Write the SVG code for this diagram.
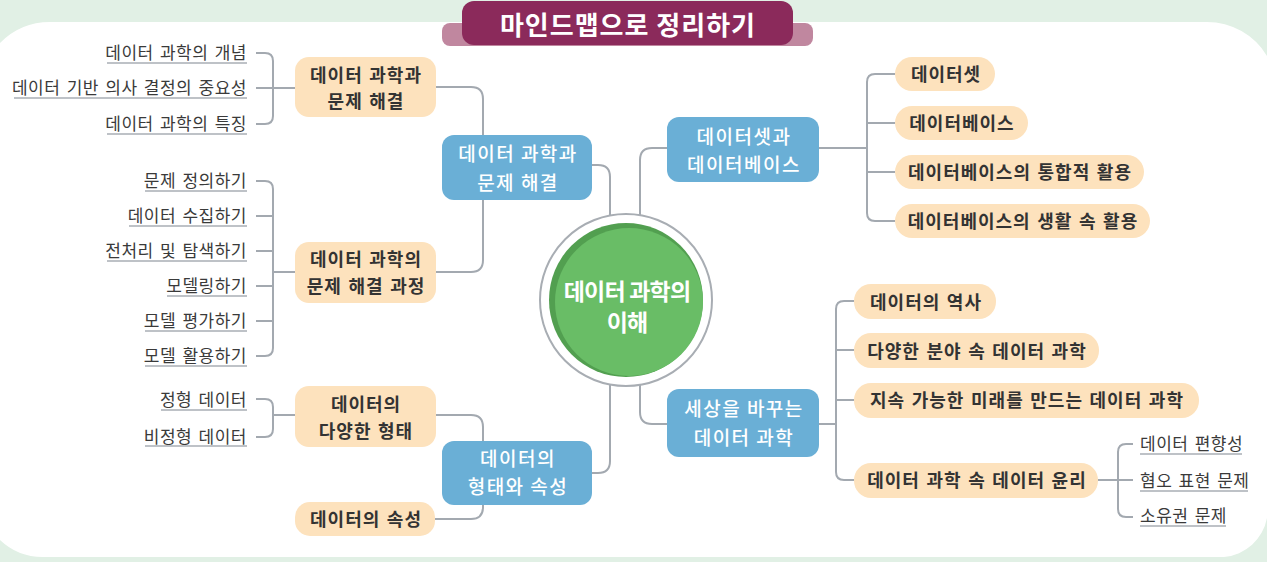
<svg xmlns="http://www.w3.org/2000/svg" width="1267" height="562" viewBox="0 0 1267 562">
<style>
.t{font-family:"Noto Sans CJK KR","Noto Sans",sans-serif}
.blue{fill:#6aafd6}
.org{fill:#fde2bd}
.bt{fill:#ffffff;font-size:19px;font-weight:500;text-anchor:middle;letter-spacing:1.5px}
.ot{fill:#333333;font-size:18px;font-weight:bold;text-anchor:middle;letter-spacing:1px;word-spacing:1.5px}
.lt{fill:#3a3a3a;font-size:17px;letter-spacing:0.5px;word-spacing:2px}
.ul{stroke:#a9aeb4;stroke-width:1.5}
.c{fill:none;stroke:#a3a9b0;stroke-width:2}
</style>
<rect x="0" y="0" width="1267" height="562" fill="#e1f0e5"/>
<path d="M0,43 A70,70 0 0 1 50,22 H1207 A70,70 0 0 1 1267,56 V518 A48,48 0 0 1 1224,557 H43 A62,62 0 0 1 0,540 Z" fill="#ffffff"/>

<g id="title">
<rect x="442" y="23" width="371" height="23" rx="8" fill="#c0879f"/>
<rect x="462" y="1" width="331" height="44" rx="12" fill="#8b2a5b"/>
<text class="t" x="628" y="35" fill="#ffffff" font-size="26" font-weight="bold" text-anchor="middle" letter-spacing="1">마인드맵으로 정리하기</text>
</g>

<g id="connectors">
<path class="c" d="M592,165 H598 Q610,165 610,177 V216"/>
<path class="c" d="M667,148 H652 Q640,148 640,160 V216"/>
<path class="c" d="M640,384 V412 Q640,424 652,424 H667"/>
<path class="c" d="M610,384 V461 Q610,473 598,473 H592"/>
<path class="c" d="M436,87 H471 Q483,87 483,99 V135"/>
<path class="c" d="M483,200 V260 Q483,272 471,272 H436"/>
<path class="c" d="M436,415 H471 Q483,415 483,427 V441"/>
<path class="c" d="M483,505 V507 Q483,519 471,519 H435"/>
<path class="c" d="M256,53 H265 Q273,53 273,61 V116 Q273,124 265,124 H256"/>
<path class="c" d="M256,88 H295"/>
<path class="c" d="M256,181 H265 Q273,181 273,189 V348 Q273,356 265,356 H256"/>
<path class="c" d="M256,216 H273 M256,251 H273 M256,286 H273 M256,321 H273 M273,272 H295"/>
<path class="c" d="M256,399 H265 Q273,399 273,407 V429 Q273,437 265,437 H256"/>
<path class="c" d="M273,415 H295"/>
<path class="c" d="M819,148 H867"/>
<path class="c" d="M895,74 H875 Q867,74 867,82 V213 Q867,221 875,221 H895"/>
<path class="c" d="M867,123 H895 M867,172 H895"/>
<path class="c" d="M819,424 H836"/>
<path class="c" d="M854,301 H844 Q836,301 836,309 V472 Q836,480 844,480 H854"/>
<path class="c" d="M836,350 H854 M836,400 H854"/>
<path class="c" d="M1098,480 H1133"/>
<path class="c" d="M1133,444 H1126 Q1118,444 1118,452 V509 Q1118,517 1126,517 H1133"/>
</g>

<g id="center">
<circle cx="626" cy="300" r="86" fill="#ffffff" stroke="#a8adb3" stroke-width="2"/>
<circle cx="626" cy="300" r="77" fill="#529f50"/>
<circle cx="629" cy="302" r="74" fill="#69bd66"/>
<text class="t" x="627" y="300" fill="#ffffff" font-size="23" font-weight="bold" text-anchor="middle" letter-spacing="-0.8">데이터 과학의</text>
<text class="t" x="627" y="331" fill="#ffffff" font-size="23" font-weight="bold" text-anchor="middle" letter-spacing="-0.8">이해</text>
</g>

<g id="b1"><rect class="blue" x="442" y="135" width="150" height="65" rx="12"/>
<text class="t bt" x="518" y="161">데이터 과학과</text><text class="t bt" x="518" y="190">문제 해결</text></g>
<g id="b2"><rect class="blue" x="667" y="117" width="152" height="65" rx="12"/>
<text class="t bt" x="744" y="144">데이터셋과</text><text class="t bt" x="744" y="172">데이터베이스</text></g>
<g id="b3"><rect class="blue" x="667" y="389" width="152" height="68" rx="12"/>
<text class="t bt" x="744" y="416">세상을 바꾸는</text><text class="t bt" x="744" y="445">데이터 과학</text></g>
<g id="b4"><rect class="blue" x="442" y="441" width="150" height="64" rx="12"/>
<text class="t bt" x="518" y="466">데이터의</text><text class="t bt" x="518" y="494">형태와 속성</text></g>

<g id="oA"><rect class="org" x="295" y="57" width="141" height="60" rx="14"/>
<text class="t ot" x="366" y="82">데이터 과학과</text><text class="t ot" x="366" y="108">문제 해결</text></g>
<g id="oB"><rect class="org" x="295" y="242" width="141" height="61" rx="14"/>
<text class="t ot" x="366" y="266">데이터 과학의</text><text class="t ot" x="366" y="293">문제 해결 과정</text></g>
<g id="oC"><rect class="org" x="295" y="386" width="141" height="61" rx="14"/>
<text class="t ot" x="366" y="411">데이터의</text><text class="t ot" x="366" y="438">다양한 형태</text></g>
<g id="oD"><rect class="org" x="295" y="502" width="140" height="34" rx="15"/>
<text class="t ot" x="366" y="526">데이터의 속성</text></g>

<g id="oE"><rect class="org" x="895" y="57" width="100" height="34" rx="17"/>
<text class="t ot" x="946" y="81">데이터셋</text></g>
<g id="oF"><rect class="org" x="895" y="106" width="133" height="34" rx="17"/>
<text class="t ot" x="962" y="130">데이터베이스</text></g>
<g id="oG"><rect class="org" x="895" y="155" width="249" height="34" rx="17"/>
<text class="t ot" x="1020" y="179">데이터베이스의 통합적 활용</text></g>
<g id="oH"><rect class="org" x="895" y="204" width="255" height="34" rx="17"/>
<text class="t ot" x="1023" y="228">데이터베이스의 생활 속 활용</text></g>
<g id="oI"><rect class="org" x="854" y="284" width="142" height="35" rx="17"/>
<text class="t ot" x="926" y="309">데이터의 역사</text></g>
<g id="oJ"><rect class="org" x="854" y="333" width="245" height="35" rx="17"/>
<text class="t ot" x="977" y="358">다양한 분야 속 데이터 과학</text></g>
<g id="oK"><rect class="org" x="854" y="383" width="345" height="35" rx="17"/>
<text class="t ot" x="1027" y="407">지속 가능한 미래를 만드는 데이터 과학</text></g>
<g id="oL"><rect class="org" x="854" y="463" width="244" height="35" rx="17"/>
<text class="t ot" x="977" y="487">데이터 과학 속 데이터 윤리</text></g>

<g id="leaves-left">
<text class="t lt" x="247" y="59" text-anchor="end">데이터 과학의 개념</text><line class="ul" x1="107" y1="63" x2="247" y2="63"/>
<text class="t lt" x="247" y="94" text-anchor="end">데이터 기반 의사 결정의 중요성</text><line class="ul" x1="14" y1="98" x2="247" y2="98"/>
<text class="t lt" x="247" y="130" text-anchor="end">데이터 과학의 특징</text><line class="ul" x1="107" y1="134" x2="247" y2="134"/>
<text class="t lt" x="247" y="187" text-anchor="end">문제 정의하기</text><line class="ul" x1="145" y1="191" x2="247" y2="191"/>
<text class="t lt" x="247" y="222" text-anchor="end">데이터 수집하기</text><line class="ul" x1="129" y1="226" x2="247" y2="226"/>
<text class="t lt" x="247" y="257" text-anchor="end">전처리 및 탐색하기</text><line class="ul" x1="107" y1="261" x2="247" y2="261"/>
<text class="t lt" x="247" y="292" text-anchor="end">모델링하기</text><line class="ul" x1="167" y1="296" x2="247" y2="296"/>
<text class="t lt" x="247" y="327" text-anchor="end">모델 평가하기</text><line class="ul" x1="145" y1="331" x2="247" y2="331"/>
<text class="t lt" x="247" y="362" text-anchor="end">모델 활용하기</text><line class="ul" x1="145" y1="366" x2="247" y2="366"/>
<text class="t lt" x="247" y="406" text-anchor="end">정형 데이터</text><line class="ul" x1="161" y1="410" x2="247" y2="410"/>
<text class="t lt" x="247" y="443" text-anchor="end">비정형 데이터</text><line class="ul" x1="145" y1="446" x2="247" y2="446"/>
</g>
<g id="leaves-right">
<text class="t lt" x="1140" y="450">데이터 편향성</text><line class="ul" x1="1140" y1="454" x2="1242" y2="454"/>
<text class="t lt" x="1140" y="487">혐오 표현 문제</text><line class="ul" x1="1140" y1="491" x2="1248" y2="491"/>
<text class="t lt" x="1140" y="522">소유권 문제</text><line class="ul" x1="1140" y1="526" x2="1226" y2="526"/>
</g>
</svg>
